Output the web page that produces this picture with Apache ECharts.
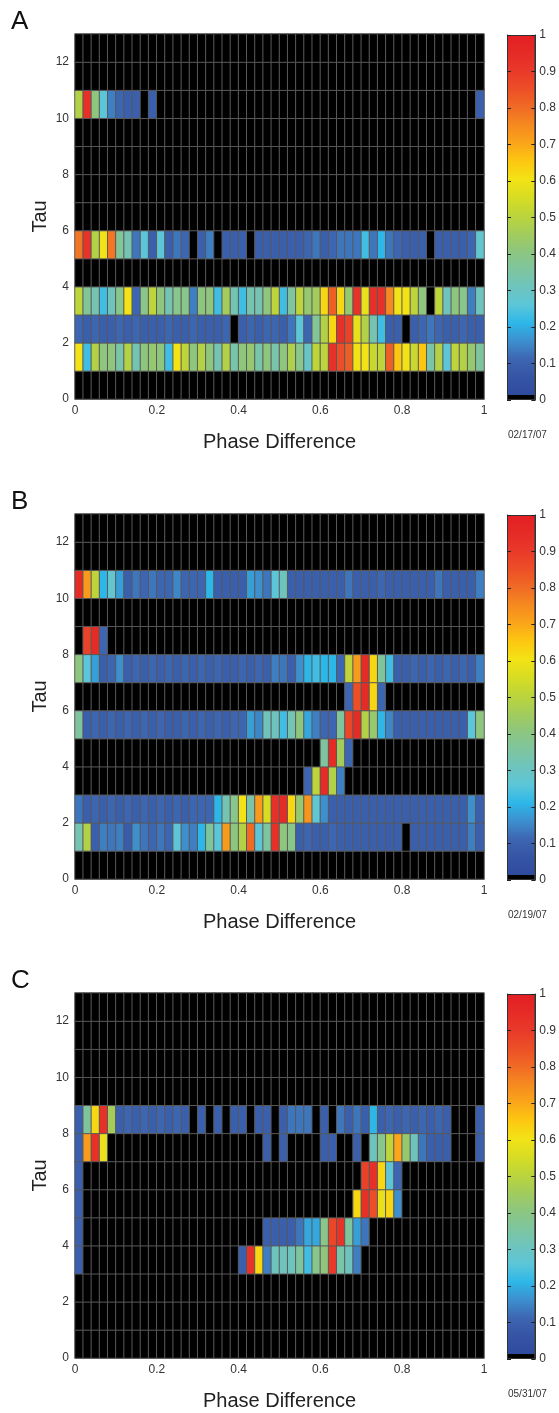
<!DOCTYPE html>
<html><head><meta charset="utf-8">
<script src="https://cdn.jsdelivr.net/npm/echarts@6/dist/echarts.min.js"></script>
<style>html,body{margin:0;padding:0;background:#fff}#chart{width:559px;height:1413px}</style>
</head><body><div id="chart"></div>
<script>
// ---------- categories / ticks ----------
const X_CATS = [0,1,2,3,4,5,6,7,8,9,10,11,12,13,14,15,16,17,18,19,20,21,22,23,24,25,26,27,28,29,30,31,32,33,34,35,36,37,38,39,40,41,42,43,44,45,46,47,48,49]; // phase bins (width 0.02)
const Y_CATS = [0,1,2,3,4,5,6,7,8,9,10,11,12]; // tau bins (width 1)
const X_TICKS = [0, 0.2, 0.4, 0.6, 0.8, 1];
const Y_TICKS = [0, 2, 4, 6, 8, 10, 12];
const CBAR_TICKS = [0, 0.1, 0.2, 0.3, 0.4, 0.5, 0.6, 0.7, 0.8, 0.9, 1];
const CBAR_MAX = 1;
const COLORS = ['#2f4b9f','#3654a4','#3d66b2','#3d8fcd','#2db7e9','#5cc6d8','#6ec4bd','#7ec59e','#8ec67e','#a3cc5a','#bdd53a','#d8dd22','#f3e216','#fdc611','#faa51a','#f5891f','#f06a25','#ec4f27','#e9392a','#e52b26','#e31e24'];

// ---------- Panel A (02/17/07) ----------
const A_TAU1 = [.60,.22,.48,.40,.40,.33,.48,.32,.40,.42, .40,.22,.60,.50,.40,.48,.40,.32,.48,.33, .40,.42,.33,.40,.33,.40,.47,.38,.28,.50, .50,.93,.85,.82,.60,.60,.52,.50,.82,.65, .60,.52,.65,.33,.48,.25,.50,.48,.42,.35];
const A_TAU2 = [.10,.08,.10,.08,.08,.10,.08,.10,.08,.08, .08,.10,.08,.08,.10,.08,.08,.08,.10,0, .08,.10,.08,.10,.10,.08,.12,.25,.10,.36, .48,.62,.93,.88,.58,.48,.32,.22,.08,.08, 0,.08,.10,.12,.10,.08,.08,.10,.08,.08];
const A_TAU3 = [.50,.36,.32,.22,.30,.38,.60,.10,.38,.50, .40,.32,.38,.38,.13,.40,.40,.22,.45,.32, .22,.32,.32,.40,.50,.22,.35,.50,.42,.45, .62,.82,.62,.42,.92,.58,.93,.93,.75,.60, .60,.50,.40,0,.50,.30,.40,.38,.13,.30];
const A_TAU5 = [.78,.92,.48,.60,.78,.36,.32,.12,.25,.08, .25,.08,.12,.10,0,.08,.13,0,.08,.08, .08,0,.08,.08,.08,.08,.08,.08,.10,.12, .08,.10,.12,.12,.12,.22,.12,.20,.12,.10, .08,.08,.08,0,.08,.08,.08,.08,.10,.27];
const A_TAU10 = [.48,.93,.40,.25,.13,.10,.08,.08,0,.08, 0,0,0,0,0,0,0,0,0,0, 0,0,0,0,0,0,0,0,0,0, 0,0,0,0,0,0,0,0,0,0, 0,0,0,0,0,0,0,0,0,.08];

// ---------- Panel B (02/19/07) ----------
const B_TAU1 = [.32,.48,.08,.13,.12,.13,.07,.15,.12,.10, .12,.10,.25,.15,.13,.20,.35,.25,.72,.40, .48,.80,.25,.35,.93,.40,.38,.08,.10,.08, .08,.10,.08,.08,.08,.08,.08,.08,.08,.08, 0,.08,.08,.08,.08,.08,.08,.08,.13,.08];
const B_TAU2 = [.12,.08,.10,.08,.10,.08,.10,.08,.10,.08, .10,.08,.10,.08,.10,.10,.10,.20,.32,.38, .60,.33,.72,.55,.93,.95,.62,.42,.73,.26, .15,.08,.08,.08,.08,.08,.08,.08,.08,.08, .08,.08,.08,.08,.08,.08,.08,.08,.15,.08];
const B_TAU3 = [0,0,0,0,0,0,0,0,0,0, 0,0,0,0,0,0,0,0,0,0, 0,0,0,0,0,0,0,0,.10,.50, .95,.48,.13,0,0,0,0,0,0,0, 0,0,0,0,0,0,0,0,0,0];
const B_TAU4 = [0,0,0,0,0,0,0,0,0,0, 0,0,0,0,0,0,0,0,0,0, 0,0,0,0,0,0,0,0,0,0, .35,.95,.45,.10,0,0,0,0,0,0, 0,0,0,0,0,0,0,0,0,0];
const B_TAU5 = [.35,.08,.10,.08,.10,.08,.10,.08,.10,.08, .10,.08,.08,.10,.08,.10,.08,.10,.08,.10, .10,.17,.14,.30,.30,.22,.32,.40,.18,.13, .10,.10,.35,.87,.95,.48,.42,.20,.14,.08, .08,.08,.08,.08,.08,.08,.08,.08,.25,.40];
const B_TAU6 = [0,0,0,0,0,0,0,0,0,0, 0,0,0,0,0,0,0,0,0,0, 0,0,0,0,0,0,0,0,0,0, 0,0,0,.10,.85,.95,.62,.10,0,0, 0,0,0,0,0,0,0,0,0,0];
const B_TAU7 = [.40,.25,.17,.08,.10,.15,.08,.10,.08,.10, .08,.10,.08,.10,.08,.10,.08,.10,.08,.08, .10,.08,.10,.08,.13,.12,.08,.15,.20,.22, .20,.20,.10,.50,.72,.95,.62,.35,.22,.08, .08,.10,.08,.10,.08,.10,.08,.10,.08,.13];
const B_TAU8 = [0,.88,.95,.10,0,0,0,0,0,0, 0,0,0,0,0,0,0,0,0,0, 0,0,0,0,0,0,0,0,0,0, 0,0,0,0,0,0,0,0,0,0, 0,0,0,0,0,0,0,0,0,0];
const B_TAU10 = [.95,.72,.50,.20,.27,.17,.08,.12,.10,.12, .10,.10,.14,.10,.10,.10,.20,.08,.08,.08, .08,.17,.15,.12,.25,.30,.08,.08,.08,.08, .08,.08,.08,.12,.08,.08,.08,.10,.08,.08, .08,.08,.08,.08,.12,.08,.08,.08,.08,.13];

// ---------- Panel C (05/31/07) ----------
const C_TAU3 = [.08,0,0,0,0,0,0,0,0,0, 0,0,0,0,0,0,0,0,0,0, .08,.92,.62,.13,.30,.30,.30,.35,.22,.38, .40,.90,.33,.30,.13,0,0,0,0,0, 0,0,0,0,0,0,0,0,0,0];
const C_TAU4 = [.08,0,0,0,0,0,0,0,0,0, 0,0,0,0,0,0,0,0,0,0, 0,0,0,.08,.08,.08,.08,.12,.18,.18, .38,.87,.92,.35,.17,.12,0,0,0,0, 0,0,0,0,0,0,0,0,0,0];
const C_TAU5 = [.08,0,0,0,0,0,0,0,0,0, 0,0,0,0,0,0,0,0,0,0, 0,0,0,0,0,0,0,0,0,0, 0,0,0,0,.62,.93,.85,.58,.62,.15, 0,0,0,0,0,0,0,0,0,0];
const C_TAU6 = [.08,0,0,0,0,0,0,0,0,0, 0,0,0,0,0,0,0,0,0,0, 0,0,0,0,0,0,0,0,0,0, 0,0,0,0,0,.88,.93,.62,.25,.10, 0,0,0,0,0,0,0,0,0,0];
const C_TAU7 = [.08,.72,.93,.58,0,0,0,0,0,0, 0,0,0,0,0,0,0,0,0,0, 0,0,0,.08,0,.08,0,0,0,0, .08,.08,0,0,.08,0,.30,.38,.50,.70, .42,.30,.12,.08,.08,.08,0,0,0,.08];
const C_TAU8 = [.08,.35,.62,.93,.45,.08,.10,.08,.10,.08, .10,.08,.10,.08,0,.08,0,.08,0,.08, .08,0,.08,.08,0,.08,.12,.12,.12,0, .08,0,.12,.08,.12,.08,.20,.08,.10,.08, .10,.08,.10,.08,.10,.08,0,0,0,.08];

const PANELS = [
  { letter: 'A', date: '02/17/07', rows: {1: A_TAU1, 2: A_TAU2, 3: A_TAU3, 5: A_TAU5, 10: A_TAU10} },
  { letter: 'B', date: '02/19/07', rows: {1: B_TAU1, 2: B_TAU2, 3: B_TAU3, 4: B_TAU4, 5: B_TAU5, 6: B_TAU6, 7: B_TAU7, 8: B_TAU8, 10: B_TAU10} },
  { letter: 'C', date: '05/31/07', rows: {3: C_TAU3, 4: C_TAU4, 5: C_TAU5, 6: C_TAU6, 7: C_TAU7, 8: C_TAU8} }
];

// ---------- layout ----------
const FONT = '"Liberation Sans", Arial, sans-serif';
const TOPS = [34, 514, 993];
const PLOT_L = 75, PLOT_W = 409, PLOT_H = 365;
const CB_L = 507, CB_W = 29;

function buildData(rows) {
  const out = [];
  Y_CATS.forEach(function (r) {
    const arr = rows[r];
    X_CATS.forEach(function (c) { out.push([c, r, arr ? arr[c] : 0]); });
  });
  return out;
}

const grid = [], xAxis = [], yAxis = [], series = [], graphic = [];
const gradStops = [{offset: 0, color: '#000'}, {offset: 0.013, color: '#000'}];
COLORS.forEach(function (c, i) { gradStops.push({offset: 0.014 + 0.986 * i / (COLORS.length - 1), color: c}); });

PANELS.forEach(function (p, k) {
  grid.push({left: PLOT_L, top: TOPS[k], width: PLOT_W, height: PLOT_H});
});
PANELS.forEach(function (p, k) {
  grid.push({left: CB_L, top: TOPS[k] + 1, width: CB_W, height: PLOT_H});
});

PANELS.forEach(function (p, k) {
  const T = TOPS[k];
  xAxis.push({type: 'category', gridIndex: k, data: X_CATS, show: false, position: 'top'});
  xAxis.push({type: 'value', gridIndex: k, position: 'bottom', min: X_TICKS[0], max: X_TICKS[X_TICKS.length - 1], interval: X_TICKS[1] - X_TICKS[0],
    axisLine: {show: true, onZero: false, lineStyle: {color: '#999'}}, axisTick: {show: false}, splitLine: {show: false},
    axisLabel: {color: '#333', fontSize: 12, margin: 6, fontFamily: FONT},
    name: 'Phase Difference', nameLocation: 'middle', nameGap: 33, nameMoveOverlap: false,
    nameTextStyle: {fontSize: 20, color: '#222', fontFamily: FONT}});
  xAxis.push({type: 'category', gridIndex: 3 + k, data: [''], show: false});

  yAxis.push({type: 'category', gridIndex: k, data: Y_CATS, show: false, position: 'right'});
  yAxis.push({type: 'value', gridIndex: k, position: 'left', min: 0, max: Y_CATS.length, interval: Y_TICKS[1] - Y_TICKS[0],
    axisLine: {show: true, onZero: false, lineStyle: {color: '#999'}}, axisTick: {show: false}, splitLine: {show: false},
    axisLabel: {color: '#333', fontSize: 12, margin: 6, fontFamily: FONT, showMaxLabel: false},
    name: 'Tau', nameLocation: 'middle', nameGap: 25, nameRotate: 90, nameMoveOverlap: false,
    nameTextStyle: {fontSize: 20, color: '#222', fontFamily: FONT}});
  yAxis.push({type: 'value', gridIndex: 3 + k, position: 'right', min: CBAR_TICKS[0], max: CBAR_TICKS[CBAR_TICKS.length - 1], interval: 0.1, z: 5,
    axisLine: {show: true, lineStyle: {color: '#333'}}, axisTick: {show: true, inside: true, length: 4, lineStyle: {color: '#222'}},
    splitLine: {show: false}, axisLabel: {color: '#333', fontSize: 12, margin: 4, fontFamily: FONT}});
  yAxis.push({type: 'value', gridIndex: 3 + k, position: 'left', min: 0, max: 1, interval: 0.1, z: 5,
    axisLine: {show: true, lineStyle: {color: '#333'}}, axisTick: {show: true, inside: true, length: 4, lineStyle: {color: '#222'}},
    splitLine: {show: false}, axisLabel: {show: false}});

  graphic.push({type: 'text', left: 11, top: T - 25, style: {text: p.letter, fontSize: 26, fill: '#111', fontFamily: FONT}});
  graphic.push({type: 'text', left: 508, top: T + 396, style: {text: p.date, fontSize: 10, fill: '#333', fontFamily: FONT}});
});

PANELS.forEach(function (p, k) {
  series.push({type: 'heatmap', xAxisIndex: 3 * k, yAxisIndex: 4 * k, data: buildData(p.rows),
    itemStyle: {borderColor: '#595959', borderWidth: 1}, emphasis: {disabled: true}, silent: true});
});
PANELS.forEach(function (p, k) {
  series.push({type: 'bar', xAxisIndex: 3 * k + 2, yAxisIndex: 4 * k + 2, data: [CBAR_MAX], barWidth: '100%', silent: true,
    itemStyle: {borderColor: '#333', borderWidth: 1,
      color: {type: 'linear', x: 0, y: 1, x2: 0, y2: 0, colorStops: gradStops}}});
});

const chart = echarts.init(document.getElementById('chart'), null, {renderer: 'canvas'});
chart.setOption({
  animation: false,
  backgroundColor: '#fff',
  textStyle: {fontFamily: FONT},
  grid: grid, xAxis: xAxis, yAxis: yAxis, series: series, graphic: graphic,
  visualMap: {type: 'continuous', show: false, seriesIndex: [0, 1, 2], dimension: 2, min: 0, max: 1, range: [0.005, 1],
    inRange: {color: COLORS}, outOfRange: {color: ['#000']}}
});
</script></body></html>
